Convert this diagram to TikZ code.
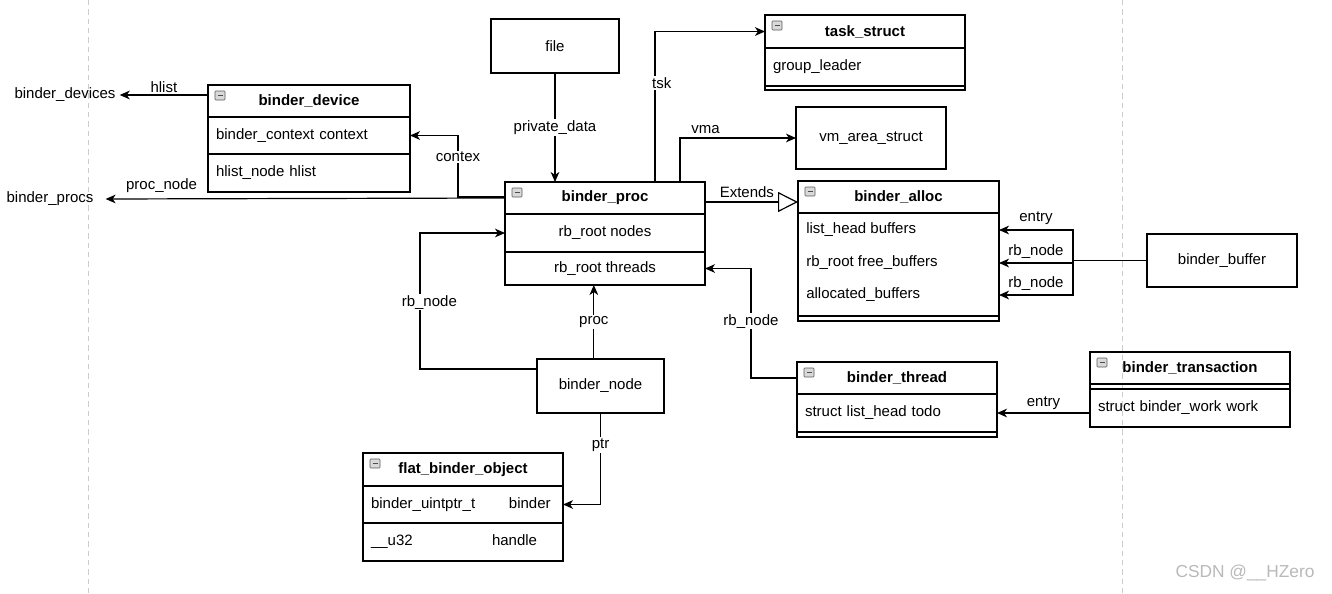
\documentclass[tikz,border=0pt]{standalone}
\usepackage{fontspec}
\setmainfont{Liberation Sans}
\usetikzlibrary{arrows.meta,calc}
\newcommand\fsz{\fontsize{11.25pt}{13.5pt}\selectfont}
\tikzset{
  txt/.style={font=\fsz, text=black, inner sep=0pt, inner xsep=3pt},
  base/.style={draw=black, line width=0.9pt, inner sep=0pt, outer sep=0pt, anchor=north west, font=\fsz, text=black},
  plain/.style 2 args={base, minimum width=#1, minimum height=#2},
  hdr/.style 2 args={base, minimum width=#1, minimum height=#2, font=\fsz\bfseries},
  rowl/.style 2 args={base, text width=#1, inner xsep=6pt, align=left, minimum height=#2},
  lbl/.style={fill=white, inner sep=1pt, font=\fsz, text=black},
  elbl/.style={inner sep=0pt, font=\fsz, text=black},
  arr/.style={line width=0.9pt, draw=black, -{Stealth[length=7.5pt, width=6.5pt, inset=2.2pt]}},
  ext/.style={line width=0.9pt, draw=black, -{Triangle[length=15pt, width=15pt, fill=white, line width=0.9pt]}},
  icon/.pic={
    \draw[draw=gray!70!black, fill=gray!30, line width=0.4pt, rounded corners=0.6pt] (0,0) rectangle (10,9);
    \draw[line width=0.9pt, black!70] (2.5,4.5) -- (7.5,4.5);
  }
}
\begin{document}
\begin{tikzpicture}[x=0.75pt, y=-0.75pt]
\useasboundingbox (0,0) rectangle (1332,593);
% dashed guide lines
\draw[gray!40, line width=0.6pt, dash pattern=on 4pt off 3pt] (88,0) -- (88,593);
\draw[gray!40, line width=0.6pt, dash pattern=on 4pt off 3pt] (1122,0) -- (1122,593);

% boxes
\node[plain={96pt}{40.5pt}] (file) at (491,19) {file};

\node[hdr={150pt}{24.75pt}] (taskH) at (765,15) {task\_struct};
\node[rowl={138pt}{28.5pt}] (taskR) at (765,48) {group\_leader};
\node[plain={150pt}{3pt}] (taskE) at (765,86) {};

\node[plain={112.5pt}{46.5pt}] (vm) at (796,107) {vm\_area\_struct};

\node[hdr={151.5pt}{24pt}] (devH) at (208,85) {binder\_device};
\node[rowl={139.5pt}{27.75pt}] (devC) at (208,117) {binder\_context context};
\node[rowl={139.5pt}{28.5pt}] (devL) at (208,154) {hlist\_node hlist};

\node[hdr={150pt}{24pt}] (procH) at (505,182) {binder\_proc};
\node[plain={150pt}{28.5pt}] (procN) at (505,214) {rb\_root nodes};
\node[plain={150pt}{24.75pt}] (procT) at (505,252) {rb\_root threads};

\node[hdr={150.75pt}{24pt}] (allocH) at (798,181) {binder\_alloc};
\node[plain={150.75pt}{77.25pt}] (allocB) at (798,213) {};
\node[txt, anchor=west, inner xsep=0pt] (allocL1) at (806,230) {list\_head buffers};
\node[txt, anchor=west, inner xsep=0pt] (allocL2) at (806,263) {rb\_root free\_buffers};
\node[txt, anchor=west, inner xsep=0pt] (allocL3) at (806,295) {allocated\_buffers};
\node[plain={150.75pt}{3.75pt}] (allocE) at (798,316) {};

\node[plain={112.5pt}{39.75pt}] (buf) at (1147,234) {binder\_buffer};

\node[hdr={150pt}{24pt}] (thrH) at (797,362) {binder\_thread};
\node[rowl={138pt}{28.5pt}] (thrR) at (797,394) {struct list\_head todo};
\node[plain={150pt}{3.75pt}] (thrE) at (797,432) {};

\node[hdr={150pt}{24pt}] (trH) at (1090,352) {binder\_transaction};
\node[plain={150pt}{3.75pt}] (trE) at (1090,384) {};
\node[rowl={138pt}{28.5pt}] (trR) at (1090,389) {struct binder\_work work};

\node[plain={95.25pt}{40.5pt}] (bnode) at (537,359) {binder\_node};

\node[hdr={150pt}{24.75pt}] (flatH) at (363,453) {flat\_binder\_object};
\node[rowl={138pt}{27.75pt}] (flatR1) at (363,486) {\makebox[103.5pt][l]{binder\_uintptr\_t}binder};
\node[rowl={138pt}{28.5pt}] (flatR2) at (363,523) {\makebox[90.75pt][l]{\_\_u32}handle};

% header icons
\foreach \h in {taskH,devH,procH,allocH,thrH,trH,flatH}
  \pic at ([xshift=5.25pt,yshift=-4.5pt]\h.north west) {icon};

% free texts
\node[txt] (devs) at (65,95) {binder\_devices};
\node[txt] (procs) at (50,199) {binder\_procs};

% connectors
\draw[arr] (devH.west |- devs.east) -- node[lbl, yshift=6pt]{hlist} (devs.east);
\draw[arr] (procH.west) -- node[elbl, pos=0.86, above=4pt]{proc\_node} ([xshift=6pt]procs.east);
\draw[arr] ([yshift=0.75pt]procH.west) -- ++(-47,0) |- node[lbl, pos=0.325]{contex} (devC.east);
\draw[arr] (file.south) -- node[lbl]{private\_data} (file.south |- procH.north);
\draw[arr] ([xshift=37.5pt]procH.north) |- node[lbl, pos=0.33, xshift=5pt]{tsk} (taskH.west);
\draw[arr] ([xshift=56.25pt]procH.north) |- node[elbl, pos=0.61, above=3pt]{vma} (vm.west);
\draw[ext] ([yshift=-3pt]procH.east) -- node[elbl, pos=0.45, above=3pt]{Extends} ([yshift=-3pt]procH.east -| allocH.west);

\draw[arr] (buf.west) -- ++(-74,0) |- node[elbl, pos=0.75, above=3.5pt]{entry} (allocB.east |- allocL1);
\draw[arr] (buf.west) -- ++(-74,0) |- node[elbl, pos=0.75, above=3pt]{rb\_node} (allocB.east |- allocL2);
\draw[arr] (buf.west) -- ++(-74,0) |- node[elbl, pos=0.75, above=3pt]{rb\_node} (allocB.east |- allocL3);

\draw[arr] (thrH.west) -- ++(-46,0) |- node[lbl, pos=0.26]{rb\_node} (procT.east);
\draw[arr] (trR.west |- thrR.east) -- node[elbl, above=2pt]{entry} (thrR.east);

\draw[arr] ([yshift=12.75pt]bnode.west) -- ++(-117,0) |- node[lbl, pos=0.246, xshift=7pt]{rb\_node} (procN.west);
\draw[arr] ([xshift=-5pt]bnode.north) -- node[lbl]{proc} ([xshift=-5pt]bnode.north |- procT.south);
\draw[arr] (bnode.south) |- node[lbl, pos=0.175]{ptr} (flatR1.east);

% watermark
\node[text=gray!55, inner sep=0pt, font=\fontsize{13pt}{15pt}\selectfont] (wm) at (1245,573) {CSDN @\_\_HZero};
\end{tikzpicture}
\end{document}
